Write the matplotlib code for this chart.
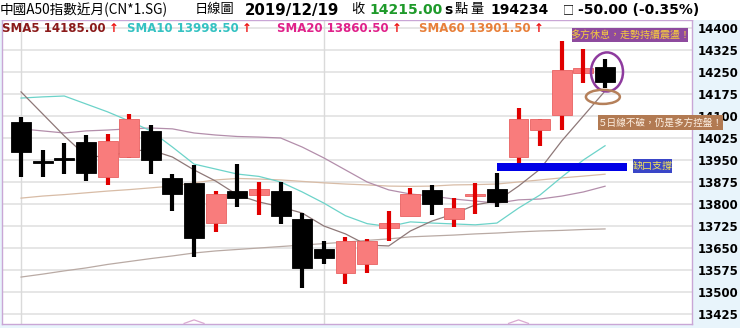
import matplotlib
matplotlib.use('Agg')
import matplotlib.pyplot as plt
from matplotlib.patches import Rectangle, Ellipse

# ---- data (daily candles, CN A50 near month) ----
opens = [14080, 13946, 13956, 14011, 13892, 13960, 14049, 13889, 13872, 13735,
         13844, 13831, 13844, 13749, 13647, 13565, 13595, 13718, 13759, 13848,
         13749, 13828, 13851, 13960, 14052, 14103, 14247, 14267]
highs = [14097, 13984, 14008, 14035, 14039, 14107, 14069, 13902, 13933, 13844,
         13936, 13875, 13875, 13769, 13674, 13688, 13681, 13776, 13855, 13865,
         13820, 13872, 13906, 14127, 14090, 14356, 14328, 14294]
lows = [13892, 13892, 13902, 13878, 13865, 13957, 13902, 13776, 13619, 13705,
        13790, 13763, 13732, 13514, 13595, 13527, 13565, 13674, 13759, 13763,
        13722, 13766, 13790, 13940, 13998, 14052, 14213, 14195]
closes = [13977, 13940, 13950, 13906, 14015, 14090, 13950, 13834, 13684, 13834,
          13820, 13851, 13759, 13582, 13616, 13674, 13674, 13735, 13834, 13800,
          13786, 13834, 13807, 14090, 14090, 14257, 14264, 14215]

sma5 = [14182, 14107, 14032, 13964, 13960, 13981, 13984, 13960, 13916, 13878,
        13831, 13807, 13790, 13769, 13725, 13698, 13660, 13657, 13708, 13742,
        13766, 13797, 13810, 13861, 13919, 14015, 14100, 14185]
sma10 = [14161, 14165, 14168, 14141, 14114, 14083, 14049, 13994, 13936, 13919,
         13902, 13894, 13875, 13841, 13803, 13760, 13733, 13723, 13739, 13735,
         13732, 13729, 13735, 13786, 13831, 13892, 13950, 13998.5]
sma20 = [14056, 14049, 14042, 14049, 14052, 14056, 14059, 14056, 14042, 14035,
         14030, 14028, 14025, 13994, 13957, 13916, 13875, 13848, 13834, 13827,
         13817, 13810, 13803, 13814, 13817, 13827, 13841, 13860.5]
sma60 = [13820, 13827, 13832, 13838, 13844, 13849, 13855, 13861, 13872, 13882,
         13887, 13885, 13882, 13877, 13872, 13868, 13865, 13861, 13860, 13861,
         13865, 13866, 13868, 13875, 13882, 13889, 13895, 13901.5]
sma_long = [13551, 13561, 13572, 13582, 13594, 13604, 13614, 13623, 13633, 13640,
            13645, 13650, 13655, 13660, 13665, 13670, 13676, 13681, 13688, 13691,
            13694, 13698, 13701, 13705, 13708, 13710, 13713, 13715]

yticks = list(range(13425, 14401, 75))
gap_low, gap_high = 13912, 13940
month_lines = [0, 14]
carets = [8, 23]

legend_items = [('SMA5 14185.00', '#8b1a1a', 2), ('SMA10 13998.50', '#35c2c2', 127),
                ('SMA20 13860.50', '#e0218a', 277), ('SMA60 13901.50', '#e8803a', 419)]

W, H = 740, 328
CJK = ['Noto Sans CJK TC', 'DejaVu Sans']
LAT = ['DejaVu Sans', 'Noto Sans CJK TC']


def fx(x):
    return x / W


def fy(y):
    return 1 - y / H


fig = plt.figure(figsize=(W / 100, H / 100), dpi=100, facecolor='#e8f4fb')
fig.patches.append(Rectangle((0, fy(20)), 1, 20 / H, transform=fig.transFigure,
                             fc='white', ec='none', zorder=0))

ax = fig.add_axes([fx(2), fy(324), (692 - 2) / W, (324 - 20) / H])
ax.set_facecolor('white')
n = len(closes)
idx = list(range(n))

ax.set_xlim(-0.88, 31.02)
ax.set_ylim(13391, 14427)

for t in yticks:
    ax.axhline(t, color='#e2e2e2', lw=1.2, zorder=0)
for m in month_lines:
    ax.axvline(m, color='#dadada', lw=1.0, zorder=0)

# moving averages
ax.plot(idx, sma_long, color='#b9aaa4', lw=0.9, zorder=2)
ax.plot(idx, sma60, color='#d8bca6', lw=0.9, zorder=2)
ax.plot(idx, sma20, color='#b38eab', lw=0.9, zorder=2)
ax.plot(idx, sma10, color='#6cd3c9', lw=0.9, zorder=2)
ax.plot(idx, sma5, color='#8e7878', lw=0.9, zorder=2)

# candles
for i in idx:
    o, h, l, c = opens[i], highs[i], lows[i], closes[i]
    up = c > o
    if up:
        wc, fc, ec = '#e00000', '#f97c7c', '#e86262'
    else:
        wc, fc, ec = 'black', 'black', 'black'
    cross = abs(c - o) < 25
    ax.vlines(i, l, h, color=wc, lw=3, zorder=5 if cross else 3)
    ax.bar(i, max(abs(c - o), 6), bottom=min(o, c), width=0.92,
           color=fc, edgecolor=ec, lw=0.6, zorder=4)

# gap support bar
ax.add_patch(Rectangle((22.0, gap_low), 6.02, gap_high - gap_low,
                       fc='#0000e6', ec='none', zorder=6))

# circles on last candle
ax.add_patch(Ellipse((27.09, 14250), 1.48, 133, fill=False, ec='#8e3a9e', lw=1.8, zorder=7))
ax.add_patch(Ellipse((26.9, 14165), 1.57, 48, fill=False, ec='#b5805a', lw=1.8, zorder=7))

for cx in carets:
    ax.plot([cx - 0.46, cx, cx + 0.46], [13393, 13405, 13393], color='#d9a9d0', lw=0.9,
            zorder=2, clip_on=False)

ax.yaxis.tick_right()
ax.set_yticks(yticks)
ax.set_yticklabels([str(t) for t in yticks], fontsize=8.5, fontweight='bold', family=LAT)
ax.tick_params(axis='y', length=0, pad=4)
ax.set_xticks([])
for s in ax.spines.values():
    s.set_color('#c9a6d6')
    s.set_linewidth(1.0)

# title row
fig.text(fx(0), fy(10), '中國A50指數近月(CN*1.SG)', fontsize=9.8, family=CJK, va='center')
fig.text(fx(195), fy(10), '日線圖', fontsize=9.5, family=CJK, va='center')
fig.text(fx(245), fy(10), '2019/12/19', fontsize=10.8, fontweight='bold', family=LAT, va='center')
fig.text(fx(351), fy(10), '收', fontsize=9.5, family=CJK, va='center')
fig.text(fx(369), fy(10), '14215.00', fontsize=10, fontweight='bold', family=LAT,
         va='center', color='#1e9a2a')
fig.text(fx(444), fy(10), 's', fontsize=10, fontweight='bold', family=LAT, va='center')
fig.text(fx(455), fy(10), '點', fontsize=9.5, family=CJK, va='center')
fig.text(fx(470), fy(10), '量', fontsize=9.5, family=CJK, va='center')
fig.text(fx(490), fy(10), '194234', fontsize=10, fontweight='bold', family=LAT, va='center')
fig.text(fx(563), fy(10), '□', fontsize=8, family=CJK, va='center')
fig.text(fx(578), fy(10), '-50.00 (-0.35%)', fontsize=10, fontweight='bold', family=LAT,
         va='center')

# legend row
for label, col, xp in legend_items:
    t = fig.text(fx(xp), fy(28), label, fontsize=8.5, fontweight='bold', family=LAT,
                 va='center', color=col)
    fig.canvas.draw()
    bb = t.get_window_extent()
    fig.text(bb.x1 / W + 0.004, fy(28), '↑', fontsize=8.5, fontweight='bold', family=LAT,
             va='center', color='#ee1111')


def note(x0, y0, x1, y1, fc, text, tc, size):
    fig.patches.append(Rectangle((fx(x0), fy(y1)), (x1 - x0) / W, (y1 - y0) / H,
                                 transform=fig.transFigure, fc=fc, ec='none', zorder=8))
    fig.text(fx((x0 + x1) / 2), fy((y0 + y1) / 2), text, fontsize=size, family=CJK,
             color=tc, ha='center', va='center', zorder=9)


note(572, 28, 688, 42, '#8e4a9e', '多方休息，走勢持續震盪！', '#f6cc3c', 7.2)
note(598, 115, 723, 130, '#b27a52', '５日線不破，仍是多方控盤！', '#fff3e6', 6.9)
note(633, 159, 672, 173, '#3a46c8', '缺口支撐', '#f3e35a', 7.2)

fig.savefig('out.png', dpi=100, facecolor=fig.get_facecolor())
